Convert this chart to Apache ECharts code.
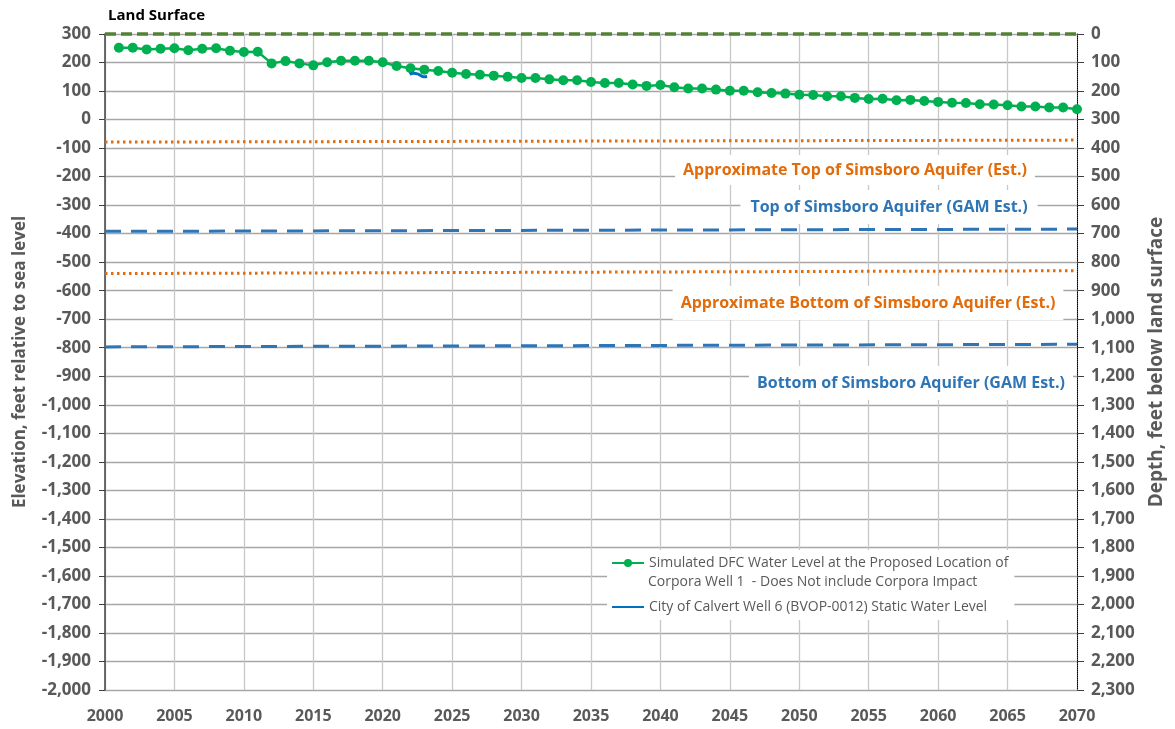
<!DOCTYPE html>
<html><head><meta charset="utf-8">
<script src="https://cdn.jsdelivr.net/npm/echarts@6/dist/echarts.min.js"></script>
<style>html,body{margin:0;padding:0;background:#fff}#c{width:1175px;height:729px}</style>
</head><body><div id="c"></div>
<script>
// ---- data ----
const simYears = [];
for (let y = 2001; y <= 2070; y++) simYears.push(y);
const simulated = [252,252,246,248,250,243,248,250,241,237,
                   238,197,205,197,190,201,206,206,206,201,
                   188,180,175,170,164,160,157,154,150,146,
                   146,141,138,138,132,128,128,123,118,121,
                   113,109,109,105,101,101,96,93,91,87,
                   86,82,82,76,72,73,68,69,65,62,
                   59,58,54,53,50,46,46,42,42,36];
const calvertYears = [2021.95, 2022.2, 2022.5, 2022.75, 2022.95, 2023.2];
const calvert = [158, 162, 160, 154, 150, 151];
const refYears = [2000, 2070];
const landSurface = [300, 300];
const approxTop = [-79, -72];
const gamTop = [-392, -384];
const approxBottom = [-540, -530];
const gamBottom = [-797, -788];
const simName = 'Simulated DFC Water Level at the Proposed Location of';
const simName2 = 'Corpora Well 1  - Does Not include Corpora Impact';
const calvertName = 'City of Calvert Well 6 (BVOP-0012) Static Water Level';
const labels = {
  approxTop: 'Approximate Top of Simsboro Aquifer (Est.)',
  gamTop: 'Top of Simsboro Aquifer (GAM Est.)',
  approxBottom: 'Approximate Bottom of Simsboro Aquifer (Est.)',
  gamBottom: 'Bottom of Simsboro Aquifer (GAM Est.)'
};
const zip = (xs, ys) => xs.map((x, i) => [x, ys[i]]);
const fmt = v => Number(v).toLocaleString('en-US');

const FONT = '"Open Sans", Lato, sans-serif';
const ORANGE = '#E26B0A';
const BLUE = '#2E75B6';

const chart = echarts.init(document.getElementById('c'), null, {renderer: 'canvas'});
function refLine(data, color, type, width) {
  return {
    type: 'line', data: data, symbol: 'none', silent: true, clip: false,
    lineStyle: {color: color, type: type, width: width}, z: 1, legendHoverLink: false
  };
}
const opt = {
  animation: false,
  backgroundColor: '#fff',
  textStyle: {fontFamily: FONT},
  grid: {left: 105, right: 98, top: 34, bottom: 39, containLabel: false},
  title: {
    text: 'Land Surface', left: 103, top: 3,
    textStyle: {fontFamily: FONT, fontSize: 15, fontWeight: 'bold', color: '#000'}
  },
  legend: {
    data: [{name: simName}, {name: calvertName, itemStyle: {opacity: 0}}],
    orient: 'vertical', left: 607, top: 550,
    backgroundColor: '#fff', padding: [6, 6, 6, 4],
    itemWidth: 32, itemHeight: 10, itemGap: 30,
    textStyle: {fontFamily: FONT, fontSize: 14, color: '#595959'},
    z: 20
  },
  xAxis: {
    type: 'value', min: 2000, max: 2070, interval: 5,
    axisLine: {show: true, lineStyle: {color: '#a6a6a6', width: 1}},
    axisTick: {show: false},
    axisLabel: {fontFamily: FONT, fontSize: 16, fontWeight: 'bold', color: '#595959', margin: 18, formatter: v => String(v)},
    splitLine: {show: true, lineStyle: {color: '#c8c8c8', width: 1.3}}
  },
  yAxis: [{
    type: 'value', min: -2000, max: 300, interval: 100, position: 'left',
    name: 'Elevation, feet relative to sea level', nameLocation: 'middle', nameGap: 76,
    nameTextStyle: {fontFamily: FONT, fontSize: 17, fontWeight: 'bold', color: '#595959'},
    axisLine: {show: true, onZero: false, lineStyle: {color: '#404040', width: 1.5}},
    axisTick: {show: true, length: 6, lineStyle: {color: '#404040'}},
    axisLabel: {fontFamily: FONT, fontSize: 17, fontWeight: 'bold', color: '#595959', margin: 14, formatter: fmt},
    splitLine: {show: true, lineStyle: {color: '#a6a6a6', width: 1.3}}
  }, {
    type: 'value', min: 0, max: 2300, interval: 100, position: 'right', inverse: true,
    name: 'Depth, feet below land surface', nameLocation: 'middle', nameGap: 70,
    nameTextStyle: {fontFamily: FONT, fontSize: 19, fontWeight: 'bold', color: '#595959'},
    axisLine: {show: true, onZero: false, lineStyle: {color: '#000', width: 1, type: 'dotted'}},
    axisTick: {show: true, length: 7, lineStyle: {color: '#404040'}},
    axisLabel: {fontFamily: FONT, fontSize: 17, fontWeight: 'bold', color: '#595959', margin: 14, formatter: fmt},
    splitLine: {show: false}
  }],
  series: [
    Object.assign(refLine(zip(refYears, landSurface), '#548235', [11, 5], 3.5), {name: 'Land Surface'}),
    Object.assign(refLine(zip(refYears, approxTop), ORANGE, [2.5, 3.5], 3), {name: labels.approxTop}),
    Object.assign(refLine(zip(refYears, gamTop), BLUE, [16, 10], 3), {name: labels.gamTop}),
    Object.assign(refLine(zip(refYears, approxBottom), ORANGE, [2.5, 3.5], 3), {name: labels.approxBottom}),
    Object.assign(refLine(zip(refYears, gamBottom), BLUE, [16, 10], 3), {name: labels.gamBottom}),
    {
      name: simName, type: 'line', data: zip(simYears, simulated),
      symbol: 'circle', symbolSize: 10, showSymbol: true,
      itemStyle: {color: '#00B050'}, lineStyle: {color: '#00B050', width: 2.5}, z: 5
    },
    {
      name: calvertName, type: 'line', data: zip(calvertYears, calvert),
      symbol: 'none', smooth: true,
      itemStyle: {color: '#0070C0'}, lineStyle: {color: '#0070C0', width: 3}, z: 6
    }
  ],
  graphic: [
    {type: 'text', z: 50, x: 648, y: 582, style: {text: simName2, fill: '#595959', font: '14px ' + FONT, textVerticalAlign: 'middle'}},
    {type: 'text', z: 50, x: 855, y: 170, style: {text: labels.approxTop, fill: ORANGE, font: 'bold 16px ' + FONT, textAlign: 'center', textVerticalAlign: 'middle', backgroundColor: '#fff', padding: [7, 8]}},
    {type: 'text', z: 50, x: 889, y: 207, style: {text: labels.gamTop, fill: BLUE, font: 'bold 16px ' + FONT, textAlign: 'center', textVerticalAlign: 'middle', backgroundColor: '#fff', padding: [9, 10]}},
    {type: 'text', z: 50, x: 868, y: 303, style: {text: labels.approxBottom, fill: ORANGE, font: 'bold 16px ' + FONT, textAlign: 'center', textVerticalAlign: 'middle', backgroundColor: '#fff', padding: [9, 8]}},
    {type: 'text', z: 50, x: 911, y: 383, style: {text: labels.gamBottom, fill: BLUE, font: 'bold 16px ' + FONT, textAlign: 'center', textVerticalAlign: 'middle', backgroundColor: '#fff', padding: [9, 8]}}
  ]
};
chart.setOption(opt);
</script>
</body></html>
